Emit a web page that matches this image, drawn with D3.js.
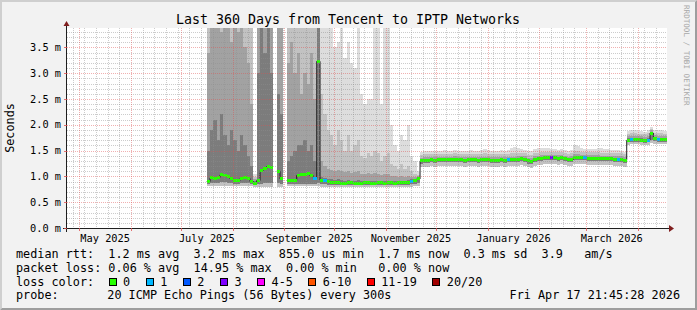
<!DOCTYPE html>
<html><head><meta charset="utf-8">
<script src="https://cdn.jsdelivr.net/npm/d3@7"></script>
<style>
html,body{margin:0;padding:0;background:#f2f2f2;}
svg text{font-family:"DejaVu Sans Mono",monospace;fill:#000;}
</style></head><body><svg id="c" width="697" height="310"></svg>
<script>
// ---------------- DATA ----------------
const title = "Last 360 Days from Tencent to IPTP Networks";
const yAxisTitle = "Seconds";
const yTicks = [0, 0.5, 1.0, 1.5, 2.0, 2.5, 3.0, 3.5];
const yTickLabels = ["0.0 m","0.5 m","1.0 m","1.5 m","2.0 m","2.5 m","3.0 m","3.5 m"];
const monthLabels = ["May 2025","July 2025","September 2025","November 2025","January 2026","March 2026"];
const monthLabelStarts = ["2025-05-01","2025-07-01","2025-09-01","2025-11-01","2026-01-01","2026-03-01"];
const rangeStart = "2025-04-23T14:53:00Z";
const rangeDays = 360;
const dataStart = "2025-07-16T10:40:00Z";
const bucketDays = 2;

// median RTT per 2-day bucket (ms); null = no data
const median = [0.90,0.97,0.96,0.98,1.03,1.01,0.99,0.95,0.92,0.92,0.96,0.97,0.96,0.90,0.87,0.92,1.12,1.15,1.19,1.18,
 null,1.10,0.95,null,0.92,0.92,0.92,1.02,1.04,1.04,1.05,1.01,0.96,3.23,0.93,0.92,0.90,0.89,0.88,0.88,
 0.87,0.87,0.88,0.88,0.87,0.87,0.87,0.88,0.88,0.87,0.87,0.88,0.88,0.87,0.88,0.88,0.87,0.88,0.88,0.88,
 0.89,0.90,0.92,0.95,1.30,1.31,1.31,1.32,1.31,1.32,1.32,1.32,1.32,1.32,1.33,1.32,1.32,1.31,1.32,1.32,
 1.32,1.31,1.32,1.32,1.32,1.31,1.31,1.31,1.32,1.31,1.32,1.32,1.32,1.33,1.34,1.33,1.30,1.29,1.33,1.34,
 1.35,1.36,1.36,1.36,1.36,1.35,1.36,1.34,1.32,1.33,1.37,1.37,1.36,1.36,1.35,1.35,1.35,1.35,1.34,1.34,
 1.34,1.34,1.33,1.33,1.33,1.31,1.70,1.71,1.71,1.71,1.70,1.69,1.70,1.84,1.73,1.72,1.72,1.72];
// lost pings (of 20) per bucket
const loss = [0,0,0,0,0,0,0,0,0,0,0,0,0,0,0,0,0,0,0,0,
 0,0,0,0,0,0,0,0,0,0,0,0,1,0,0,1,0,0,0,0,
 0,0,0,0,0,0,0,0,0,0,0,0,0,0,0,0,0,0,0,0,
 0,1,0,0,0,0,0,0,0,0,0,0,0,0,0,0,0,0,0,0,
 0,0,0,0,0,0,0,0,0,0,1,0,0,0,0,0,0,0,0,0,
 0,0,0,3,0,0,0,0,0,0,0,0,0,1,0,0,0,0,0,0,
 0,0,0,1,0,0,0,1,0,0,0,0,1,0,0,1,0,0];
// smoke: lowest ping
const smokeMin = [0.81,0.81,0.81,0.81,0.81,0.81,0.81,0.81,0.81,0.81,0.81,0.81,0.81,0.81,0.80,0.80,0.80,0.80,0.80,0.80,
 null,0.80,0.80,null,0.81,0.81,0.81,0.81,0.81,0.81,0.81,0.81,0.81,0.82,0.80,0.80,0.79,0.79,0.79,0.79,
 0.79,0.79,0.79,0.79,0.79,0.79,0.79,0.79,0.79,0.79,0.79,0.79,0.79,0.79,0.79,0.79,0.79,0.79,0.79,0.79,
 0.80,0.80,0.81,0.82,1.18,1.19,1.19,1.20,1.19,1.20,1.20,1.20,1.20,1.20,1.21,1.20,1.20,1.19,1.20,1.20,
 1.20,1.19,1.20,1.20,1.20,1.19,1.19,1.19,1.20,1.19,1.20,1.20,1.20,1.21,1.22,1.21,1.18,1.17,1.21,1.22,
 1.23,1.24,1.24,1.24,1.24,1.23,1.24,1.22,1.20,1.21,1.25,1.25,1.24,1.24,1.23,1.23,1.23,1.23,1.22,1.22,
 1.22,1.22,1.21,1.21,1.21,1.19,1.61,1.62,1.62,1.62,1.61,1.60,1.61,1.64,1.63,1.62,1.62,1.62];
// smoke: inner lower bound
const smokeLow = [0.85,0.88,0.88,0.88,0.90,0.90,0.88,0.87,0.86,0.86,0.87,0.88,0.87,0.85,0.83,0.85,0.86,0.87,0.88,0.88,
 null,0.87,0.86,null,0.86,0.86,0.86,0.86,0.86,0.86,0.86,0.86,0.86,0.88,0.86,0.85,0.84,0.84,0.83,0.83,
 0.83,0.83,0.83,0.83,0.83,0.83,0.83,0.83,0.83,0.83,0.83,0.83,0.83,0.83,0.83,0.83,0.83,0.83,0.83,0.84,
 0.84,0.85,0.86,0.88,1.25,1.26,1.26,1.27,1.26,1.27,1.27,1.27,1.27,1.27,1.28,1.27,1.27,1.26,1.27,1.27,
 1.27,1.26,1.27,1.27,1.27,1.26,1.26,1.26,1.27,1.26,1.27,1.27,1.27,1.28,1.29,1.28,1.25,1.24,1.28,1.29,
 1.30,1.31,1.31,1.31,1.31,1.30,1.31,1.29,1.27,1.28,1.32,1.32,1.31,1.31,1.30,1.30,1.30,1.30,1.29,1.29,
 1.29,1.29,1.28,1.28,1.28,1.26,1.66,1.67,1.67,1.67,1.66,1.65,1.66,1.70,1.68,1.67,1.67,1.67];
// smoke: highest ping
const smokeMax = [4.2,4.2,4.2,4.2,4.2,4.2,4.2,4.2,4.2,4.2,4.2,4.2,4.2,4.2,1.05,4.2,4.2,4.2,4.2,4.2,
 null,4.2,4.2,null,4.2,4.2,4.2,4.2,4.2,4.2,4.2,4.2,4.2,4.2,4.2,4.2,4.2,4.2,3.5,3.6,
 4.2,3.3,3.6,3.2,3.1,4.2,2.6,2.4,2.5,2.5,4.2,4.2,2.4,4.2,4.2,2.0,1.6,1.5,1.8,1.7,
 2.0,1.4,1.3,1.1,1.48,1.49,1.50,1.50,1.49,1.50,1.50,1.51,1.50,1.50,1.52,1.50,1.50,1.49,1.50,1.51,
 1.50,1.50,1.51,1.54,1.51,1.50,1.49,1.50,1.51,1.50,1.52,1.56,1.57,1.55,1.53,1.52,1.50,1.49,1.53,1.56,
 1.55,1.56,1.55,1.54,1.53,1.52,1.53,1.52,1.50,1.52,1.60,1.58,1.55,1.54,1.53,1.53,1.54,1.56,1.55,1.54,
 1.53,1.52,1.51,1.51,1.50,1.48,1.88,1.89,1.89,1.88,1.88,1.87,1.89,1.96,1.90,1.89,1.89,1.88];
// smoke: 3rd highest ping
const smokeP85 = [4.2,4.2,4.2,4.2,4.2,4.2,4.2,4.2,4.2,4.2,4.2,4.2,4.2,4.2,0.98,4.2,4.2,4.2,4.2,4.2,
 null,4.2,4.2,null,4.2,4.2,4.2,4.2,4.2,4.2,4.2,4.2,4.2,4.2,2.6,2.2,1.9,1.8,1.6,1.9,
 1.7,1.5,1.8,1.5,1.6,1.7,1.4,1.35,1.45,1.4,1.5,1.45,1.3,1.4,1.45,1.25,1.2,1.15,1.25,1.15,
 1.2,1.1,1.05,1.03,1.42,1.43,1.43,1.44,1.43,1.44,1.44,1.44,1.44,1.44,1.45,1.44,1.44,1.43,1.44,1.44,
 1.44,1.43,1.44,1.45,1.44,1.43,1.43,1.43,1.44,1.43,1.44,1.45,1.45,1.46,1.46,1.45,1.42,1.41,1.45,1.46,
 1.47,1.48,1.48,1.48,1.48,1.47,1.48,1.46,1.44,1.45,1.49,1.49,1.48,1.48,1.47,1.47,1.47,1.47,1.46,1.46,
 1.46,1.46,1.45,1.45,1.45,1.43,1.83,1.84,1.84,1.83,1.83,1.82,1.84,1.92,1.85,1.84,1.84,1.83];
// smoke: 5th highest ping
const smokeP75 = [3.4,4.2,4.2,4.2,3.8,4.2,4.2,3.6,4.2,3.8,4.2,3.5,3.2,2.4,0.95,4.2,4.2,4.2,4.2,4.2,
 null,4.2,4.2,null,3.2,3.6,3.0,3.4,2.6,3.0,2.8,3.4,2.5,4.2,1.3,1.2,1.15,1.12,1.1,1.12,
 1.1,1.08,1.1,1.06,1.08,1.1,1.05,1.04,1.06,1.04,1.06,1.05,1.02,1.04,1.05,1.01,1.0,0.99,1.0,0.99,
 1.0,0.98,0.98,1.0,1.36,1.37,1.37,1.38,1.37,1.38,1.38,1.38,1.38,1.38,1.39,1.38,1.38,1.37,1.38,1.38,
 1.38,1.37,1.38,1.38,1.38,1.37,1.37,1.37,1.38,1.37,1.38,1.38,1.38,1.39,1.40,1.39,1.36,1.35,1.39,1.40,
 1.41,1.42,1.42,1.42,1.42,1.41,1.42,1.40,1.38,1.39,1.43,1.43,1.42,1.42,1.41,1.41,1.41,1.41,1.40,1.40,
 1.40,1.40,1.39,1.39,1.39,1.37,1.78,1.79,1.79,1.78,1.78,1.77,1.78,1.89,1.80,1.79,1.79,1.78];
// smoke: 7th highest ping
const smokeP65 = [1.5,1.9,2.1,1.7,2.2,1.8,1.6,1.9,1.7,1.5,1.8,1.6,1.4,1.2,0.92,3.0,4.2,3.4,4.2,3.0,
 null,2.6,2.2,null,1.3,1.4,1.5,1.6,1.6,1.7,1.5,1.6,1.3,4.2,0.98,0.96,0.95,0.94,0.93,0.94,
 0.93,0.92,0.93,0.92,0.92,0.93,0.92,0.92,0.92,0.92,0.92,0.92,0.92,0.91,0.92,0.91,0.91,0.91,0.91,0.92,
 0.93,0.94,0.95,0.98,1.33,1.34,1.34,1.35,1.34,1.35,1.35,1.35,1.35,1.35,1.36,1.35,1.35,1.34,1.35,1.35,
 1.35,1.34,1.35,1.35,1.35,1.34,1.34,1.34,1.35,1.34,1.35,1.35,1.35,1.36,1.37,1.36,1.33,1.32,1.36,1.37,
 1.38,1.39,1.39,1.39,1.39,1.38,1.39,1.37,1.35,1.36,1.40,1.40,1.39,1.39,1.38,1.38,1.38,1.38,1.37,1.37,
 1.37,1.37,1.36,1.36,1.36,1.34,1.74,1.75,1.75,1.74,1.74,1.73,1.74,1.86,1.76,1.75,1.75,1.75];

const lossBins = ["0","1","2","3","4-5","6-10","11-19","20/20"];
const lossColors = ["#26ff00","#00b8ff","#0059ff","#7e00ff","#ff00ff","#ff5500","#ff0000","#a10000"];
const legendMedian = "median rtt:  1.2 ms avg  3.2 ms max  855.0 us min  1.7 ms now  0.3 ms sd  3.9   am/s";
const legendLoss = "packet loss: 0.06 % avg  14.95 % max  0.00 % min   0.00 % now";
const legendProbeLabel = "probe:";
const legendProbe = "20 ICMP Echo Pings (56 Bytes) every 300s";
const stamp = "Fri Apr 17 21:45:28 2026";
const watermark = "RRDTOOL / TOBI OETIKER";

// ---------------- LAYOUT ----------------
const W = 697, H = 310;
const X0 = 67, Y0 = 228, XS = 600, YS = 200;
const svg = d3.select("#c");

const t0 = new Date(rangeStart);
const t1 = d3.utcDay.offset(t0, rangeDays);
const x = d3.scaleUtc().domain([t0, t1]).range([X0, X0 + XS]);
const y = d3.scaleLinear().domain([0, 3.876]).range([Y0, Y0 - YS]);
const ds = new Date(dataStart);
const bucketStart = i => d3.utcDay.offset(ds, i * bucketDays);

// background & 3D frame
svg.append("rect").attr("width", W).attr("height", H).attr("fill", "#f2f2f2");
svg.append("path").attr("d", `M0,0H${W}L${W-2},2H2V${H-2}L0,${H}Z`).attr("fill", "#cfcfcf");
svg.append("path").attr("d", `M${W},0V${H}H0L2,${H-2}H${W-2}V2Z`).attr("fill", "#9e9e9e");
svg.append("rect").attr("x", X0).attr("y", Y0 - YS).attr("width", XS).attr("height", YS).attr("fill", "#fff");

svg.append("clipPath").attr("id", "plot").append("rect")
  .attr("x", X0).attr("y", Y0 - YS).attr("width", XS + 1).attr("height", YS);
const g = svg.append("g").attr("clip-path", "url(#plot)");

const idx = d3.range(median.length).filter(i => median[i] !== null);
const layers = [
  {hi: smokeMax, lo: smokeMin, color: "#dddddd"},
  {hi: smokeP85, lo: smokeMin, color: "#c2c2c2"},
  {hi: smokeP75, lo: smokeLow, color: "#a2a2a2"},
  {hi: smokeP65, lo: smokeLow, color: "#7c7c7c"}
];
layers.forEach(L => {
  g.append("g").attr("shape-rendering", "crispEdges").selectAll("rect").data(idx).join("rect")
    .attr("x", i => x(bucketStart(i)))
    .attr("width", i => x(bucketStart(i + 1)) - x(bucketStart(i)))
    .attr("y", i => y(L.hi[i]))
    .attr("height", i => y(L.lo[i]) - y(L.hi[i]))
    .attr("fill", L.color);
});

// grid (drawn over the smoke, as rrdtool does)
const grid = svg.append("g").attr("shape-rendering", "crispEdges");
const minorY = d3.range(1, 39).map(v => v / 10).filter(v => Math.round(v * 10) % 5 !== 0);
grid.selectAll(".hy").data(minorY).join("line")
  .attr("x1", X0).attr("x2", X0 + XS).attr("y1", v => Math.round(y(v)) + 0.5).attr("y2", v => Math.round(y(v)) + 0.5)
  .attr("stroke", "rgba(143,143,143,0.45)").attr("stroke-dasharray", "1,1");
const weeks = d3.utcSunday.range(t0, t1).filter(d => d.getUTCDate() !== 1);
grid.selectAll(".vx").data(weeks).join("line")
  .attr("y1", Y0 - YS).attr("y2", Y0).attr("x1", d => Math.round(x(d)) + 0.5).attr("x2", d => Math.round(x(d)) + 0.5)
  .attr("stroke", "rgba(143,143,143,0.45)").attr("stroke-dasharray", "1,1");
grid.selectAll(".my").data(yTicks.slice(1)).join("line")
  .attr("x1", X0).attr("x2", X0 + XS).attr("y1", v => Math.round(y(v)) + 0.5).attr("y2", v => Math.round(y(v)) + 0.5)
  .attr("stroke", "rgba(222,79,79,0.45)").attr("stroke-dasharray", "1,1");
const months = d3.utcMonth.range(t0, t1);
grid.selectAll(".mx").data(months).join("line")
  .attr("y1", Y0 - YS).attr("y2", Y0).attr("x1", d => Math.round(x(d)) + 0.5).attr("x2", d => Math.round(x(d)) + 0.5)
  .attr("stroke", "rgba(222,79,79,0.45)").attr("stroke-dasharray", "1,1");

// median line (dark) + loss coloured band
const pts = idx.map(i => ({t: bucketStart(i), v: median[i], i}));
const line = d3.line().defined(d => d.v !== null).curve(d3.curveStepAfter)
  .x(d => x(d.t)).y(d => y(d.v));
g.append("path").datum(d3.range(median.length).map(i => ({t: bucketStart(i), v: median[i]})))
  .attr("d", line).attr("fill", "none").attr("stroke", "#202020").attr("stroke-width", 1);
const lossIdx = n => n === 0 ? 0 : n === 1 ? 1 : n === 2 ? 2 : n === 3 ? 3 : n <= 5 ? 4 : n <= 10 ? 5 : n < 20 ? 6 : 7;
g.append("g").attr("shape-rendering", "crispEdges").selectAll("rect").data(pts).join("rect")
  .attr("x", d => x(d.t))
  .attr("width", d => x(bucketStart(d.i + 1)) - x(d.t))
  .attr("y", d => y(d.v) - 1.5).attr("height", 3)
  .attr("fill", d => lossColors[lossIdx(loss[d.i])]);

// axes
const axis = svg.append("g").attr("shape-rendering", "crispEdges");
axis.append("line").attr("x1", X0 - 4).attr("x2", X0 + XS + 4).attr("y1", Y0 + 0.5).attr("y2", Y0 + 0.5).attr("stroke", "#1f1f1f");
axis.append("line").attr("x1", X0 - 0.5).attr("x2", X0 - 0.5).attr("y1", Y0 + 4).attr("y2", Y0 - YS - 4).attr("stroke", "#1f1f1f");
svg.append("path").attr("d", `M${X0+XS+2},${Y0-3}L${X0+XS+7},${Y0+0.5}L${X0+XS+2},${Y0+4}Z`).attr("fill", "#801f1f");
svg.append("path").attr("d", `M${X0-3.5},${Y0-YS-2}L${X0-0.5},${Y0-YS-7}L${X0+2.5},${Y0-YS-2}Z`).attr("fill", "#801f1f");
axis.selectAll(".yt").data(yTicks).join("line")
  .attr("x1", X0 - 3).attr("x2", X0).attr("y1", v => Math.round(y(v)) + 0.5).attr("y2", v => Math.round(y(v)) + 0.5)
  .attr("stroke", "rgba(222,79,79,0.8)");
axis.selectAll(".xt").data(months).join("line")
  .attr("y1", Y0).attr("y2", Y0 + 3).attr("x1", d => Math.round(x(d)) + 0.5).attr("x2", d => Math.round(x(d)) + 0.5)
  .attr("stroke", "rgba(222,79,79,0.8)");

// y labels
svg.selectAll(".yl").data(yTicks).join("text")
  .attr("x", 61).attr("y", v => y(v) + 3.5).attr("text-anchor", "end")
  .style("font-size", "10.3px").text((v, i) => yTickLabels[i]);
// x labels centred in their month
svg.selectAll(".xl").data(monthLabels).join("text")
  .attr("x", (s, i) => { const m = new Date(monthLabelStarts[i] + "T00:00:00Z"); return (x(m) + x(d3.utcMonth.offset(m, 1))) / 2; })
  .attr("y", 241.5).attr("text-anchor", "middle").style("font-size", "10.3px").text(s => s);

// title, unit, watermark
svg.append("text").attr("x", 348).attr("y", 23.5).attr("text-anchor", "middle").style("font-size", "13.3px").text(title);
svg.append("text").attr("transform", "translate(14,128) rotate(-90)").attr("text-anchor", "middle")
  .style("font-size", "11.8px").text(yAxisTitle);
svg.append("text").attr("transform", "translate(684,5) rotate(90)").attr("text-anchor", "start")
  .style("font-size", "7.6px").style("fill", "#a8a8a8").text(watermark);

// legend
const lg = svg.append("g").style("font-size", "11.8px").attr("xml:space", "preserve");
lg.append("text").attr("x", 16).attr("y", 258).style("white-space", "pre").text(legendMedian);
lg.append("text").attr("x", 16).attr("y", 271.5).style("white-space", "pre").text(legendLoss);
lg.append("text").attr("x", 16).attr("y", 285.5).style("white-space", "pre").text("loss color:");
lg.append("text").attr("x", 16).attr("y", 299).style("white-space", "pre").text(legendProbeLabel);
lg.append("text").attr("x", 107.3).attr("y", 299).style("white-space", "pre").text(legendProbe);
lg.append("text").attr("x", 680).attr("y", 299).attr("text-anchor", "end").text(stamp);
let lx = 108.5;
lossBins.forEach((b, i) => {
  lg.append("rect").attr("x", lx + 0.5).attr("y", 278.5).attr("width", 7).attr("height", 7)
    .attr("fill", lossColors[i]).attr("stroke", "#000").attr("stroke-width", 1).attr("shape-rendering", "crispEdges");
  const t = lg.append("text").attr("x", lx + 14.6).attr("y", 285.5).text(b);
  lx = lx + 14.6 + t.node().getComputedTextLength() + 15.4;
});
</script></body></html>
